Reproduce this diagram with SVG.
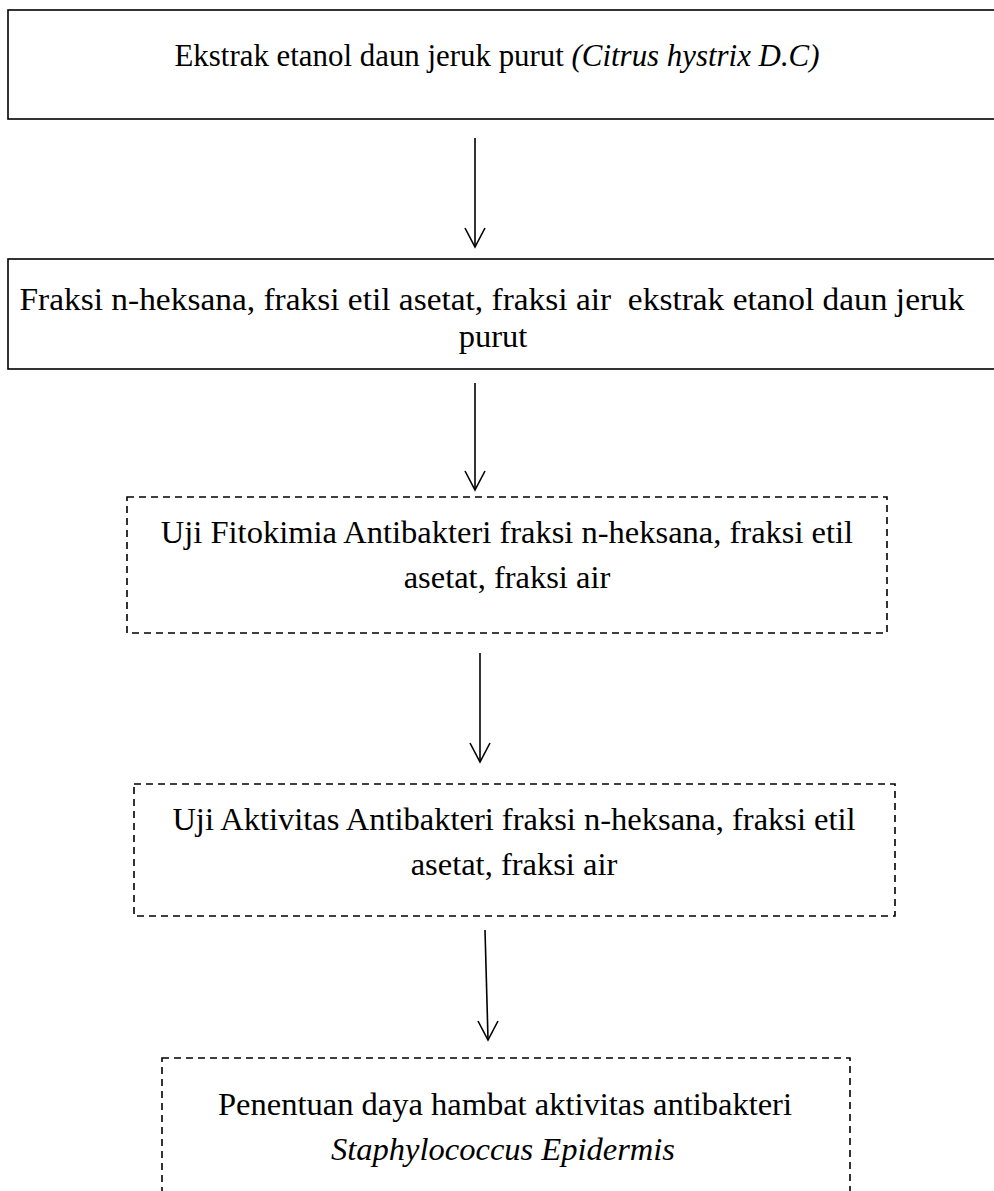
<svg xmlns="http://www.w3.org/2000/svg" width="994" height="1191" viewBox="0 0 994 1191">
<style>
.bg{fill:#fff}
.solid{fill:#fff;stroke:#000;stroke-width:1.6}
.dash{fill:#fff;stroke:#000;stroke-width:1.6;stroke-dasharray:7 5}
.t{font-family:"Liberation Serif","Times New Roman",serif;font-size:32.5px;fill:#000;text-anchor:middle}
.i{font-style:italic}
.conn{stroke:#000;stroke-width:1.6;fill:none}
</style>
<rect class="bg" x="0" y="0" width="994" height="1191"/>
<g id="node1">
<rect class="solid" x="8" y="10" width="1000" height="109"/>
<text class="t" x="497" y="66" textLength="645" lengthAdjust="spacingAndGlyphs">Ekstrak etanol daun jeruk purut <tspan class="i">(Citrus hystrix D.C)</tspan></text>
</g>
<g id="node2">
<rect class="solid" x="8" y="259" width="1000" height="110"/>
<text class="t" x="492" y="310" xml:space="preserve" textLength="945" lengthAdjust="spacingAndGlyphs">Fraksi n-heksana, fraksi etil asetat, fraksi air  ekstrak etanol daun jeruk</text>
<text class="t" x="493" y="347">purut</text>
</g>
<g id="node3">
<rect class="dash" x="127" y="497" width="760" height="136"/>
<text class="t" x="507" y="543">Uji Fitokimia Antibakteri fraksi n-heksana, fraksi etil</text>
<text class="t" x="507" y="588">asetat, fraksi air</text>
</g>
<g id="node4">
<rect class="dash" x="134" y="784" width="761" height="132"/>
<text class="t" x="514" y="830">Uji Aktivitas Antibakteri fraksi n-heksana, fraksi etil</text>
<text class="t" x="514" y="875">asetat, fraksi air</text>
</g>
<g id="node5">
<rect class="dash" x="162" y="1058" width="688" height="160"/>
<text class="t" x="505" y="1115">Penentuan daya hambat aktivitas antibakteri</text>
<text class="t i" x="503" y="1160">Staphylococcus Epidermis</text>
</g>
<g id="connectors">
<line class="conn" x1="475" y1="138" x2="475" y2="246"/>
<path class="conn" d="M465,228 L475,247 L485,228"/>
<line class="conn" x1="475" y1="383" x2="475" y2="489"/>
<path class="conn" d="M465,471 L475,490 L485,471"/>
<line class="conn" x1="480" y1="653" x2="480" y2="761"/>
<path class="conn" d="M470,743 L480,762 L490,743"/>
<line class="conn" x1="485" y1="930" x2="488" y2="1039"/>
<path class="conn" d="M478,1021 L488,1040 L498,1021"/>
</g>
</svg>
